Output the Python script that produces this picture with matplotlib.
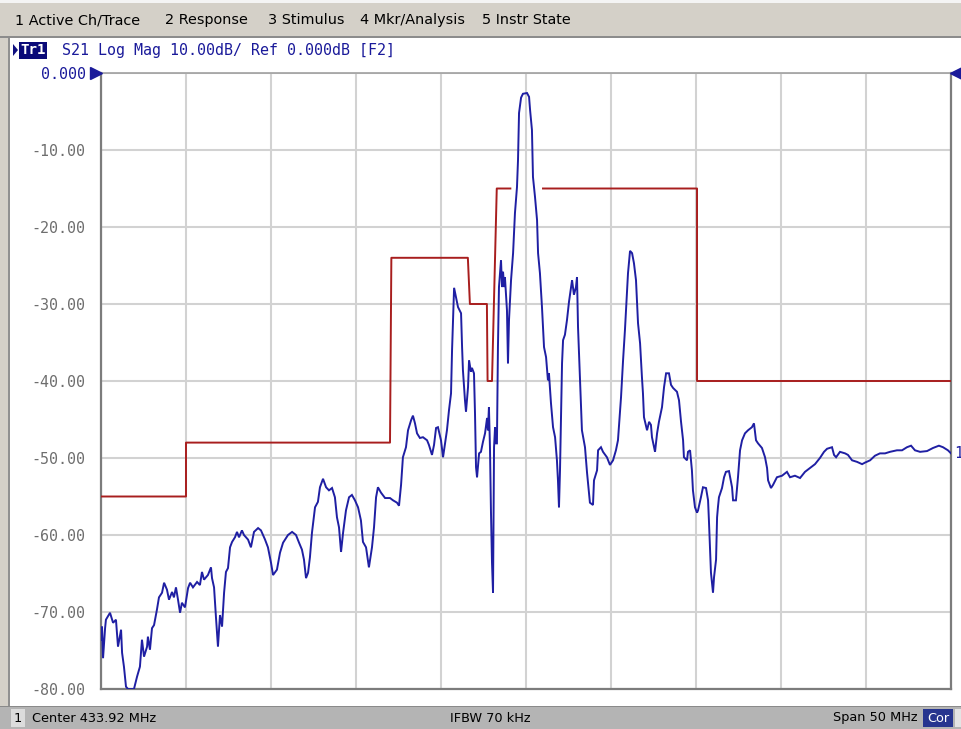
import matplotlib
matplotlib.use("Agg")
import matplotlib.pyplot as plt
import matplotlib.transforms as mtransforms
from matplotlib.patches import Rectangle, Polygon
import numpy as np

# ---- instrument settings -------------------------------------------------
center_mhz = 433.92
span_mhz = 50.0
ref_db = 0.0
scale_db = 10.0
n_div_y = 8
n_div_x = 10
ifbw_text = "IFBW 70 kHz"
menu_items = ["1 Active Ch/Trace", "2 Response", "3 Stimulus",
              "4 Mkr/Analysis", "5 Instr State"]

# ---- S21 trace (MHz, dB) -------------------------------------------------
freq_mhz = [
    408.92, 408.98, 409.04, 409.16, 409.21, 409.45, 409.63, 409.80, 409.92, 410.10,
    410.16, 410.27, 410.39, 410.51, 410.86, 411.04, 411.21, 411.33, 411.45, 411.63,
    411.68, 411.80, 411.92, 412.04, 412.21, 412.33, 412.51, 412.63, 412.80, 412.92,
    413.10, 413.21, 413.33, 413.45, 413.57, 413.68, 413.86, 414.04, 414.16, 414.33,
    414.57, 414.74, 414.86, 414.98, 415.21, 415.39, 415.45, 415.57, 415.68, 415.80,
    415.92, 416.04, 416.16, 416.27, 416.39, 416.51, 416.63, 416.80, 416.92, 417.04,
    417.21, 417.33, 417.57, 417.74, 417.92, 418.16, 418.33, 418.45, 418.57, 418.74,
    418.92, 419.04, 419.27, 419.45, 419.63, 419.92, 420.16, 420.39, 420.57, 420.74,
    420.86, 420.98, 421.10, 421.21, 421.33, 421.51, 421.68, 421.80, 421.98, 422.16,
    422.33, 422.51, 422.68, 422.80, 422.92, 423.04, 423.16, 423.33, 423.51, 423.68,
    423.86, 424.04, 424.21, 424.33, 424.51, 424.68, 424.86, 424.98, 425.10, 425.21,
    425.39, 425.63, 425.92, 426.10, 426.33, 426.45, 426.57, 426.68, 426.86, 426.98,
    427.16, 427.27, 427.39, 427.51, 427.68, 427.86, 428.10, 428.21, 428.39, 428.51,
    428.63, 428.74, 428.92, 429.04, 429.16, 429.27, 429.39, 429.51, 429.57, 429.63,
    429.69, 429.80, 429.92, 430.10, 430.16, 430.21, 430.33, 430.39, 430.51, 430.57,
    430.68, 430.74, 430.86, 430.92, 430.98, 431.04, 431.16, 431.27, 431.39, 431.51,
    431.63, 431.68, 431.74, 431.80, 431.86, 431.92, 431.98, 432.04, 432.10, 432.16,
    432.21, 432.27, 432.33, 432.45, 432.51, 432.57, 432.63, 432.68, 432.80, 432.86,
    432.92, 433.04, 433.16, 433.27, 433.39, 433.45, 433.51, 433.63, 433.74, 433.98,
    434.10, 434.16, 434.27, 434.33, 434.45, 434.57, 434.63, 434.74, 434.86, 434.98,
    435.10, 435.21, 435.27, 435.39, 435.51, 435.63, 435.74, 435.80, 435.86, 435.92,
    436.04, 436.10, 436.21, 436.33, 436.45, 436.57, 436.63, 436.74, 436.86, 436.92,
    436.98, 437.10, 437.21, 437.39, 437.51, 437.68, 437.86, 437.92, 438.10, 438.16,
    438.33, 438.45, 438.68, 438.86, 439.04, 439.21, 439.33, 439.51, 439.63, 439.74,
    439.86, 439.92, 440.04, 440.16, 440.27, 440.39, 440.51, 440.63, 440.74, 440.80,
    440.86, 441.04, 441.16, 441.27, 441.33, 441.51, 441.63, 441.74, 441.92, 442.04,
    442.16, 442.33, 442.45, 442.57, 442.80, 442.92, 443.04, 443.16, 443.21, 443.39,
    443.45, 443.57, 443.68, 443.74, 443.86, 443.98, 444.04, 444.21, 444.33, 444.51,
    444.63, 444.68, 444.80, 444.92, 444.98, 445.10, 445.16, 445.21, 445.27, 445.45,
    445.57, 445.68, 445.86, 446.04, 446.10, 446.27, 446.39, 446.51, 446.63, 446.80,
    446.98, 447.21, 447.33, 447.45, 447.57, 447.80, 447.98, 448.10, 448.16, 448.33,
    448.45, 448.68, 448.98, 449.27, 449.45, 449.74, 450.04, 450.33, 450.63, 450.92,
    451.21, 451.45, 451.63, 451.92, 452.04, 452.16, 452.39, 452.69, 452.86, 453.10,
    453.39, 453.69, 453.86, 454.16, 454.45, 454.74, 455.04, 455.33, 455.74, 456.04,
    456.33, 456.57, 456.80, 457.10, 457.51, 457.86, 458.21, 458.45, 458.74, 458.92,
]
s21_db = [
    -73.6, -71.9, -76.0, -72.1, -71.0, -70.1, -71.4, -71.0, -74.5, -72.3,
    -75.3, -77.1, -79.7, -80.0, -80.0, -78.4, -77.1, -73.6, -75.8, -74.5,
    -73.2, -74.9, -72.1, -71.7, -69.7, -68.1, -67.5, -66.2, -67.1, -68.4,
    -67.4, -68.1, -66.8, -68.4, -70.1, -68.8, -69.4, -66.9, -66.2, -66.8,
    -66.1, -66.5, -64.8, -65.8, -65.2, -64.2, -65.6, -66.8, -70.6, -74.5,
    -70.4, -71.9, -67.5, -64.8, -64.3, -61.6, -60.9, -60.3, -59.6, -60.3,
    -59.4, -60.0, -60.6, -61.6, -59.6, -59.1, -59.4, -60.0, -60.6, -61.6,
    -63.6, -65.2, -64.5, -62.3, -61.0, -60.0, -59.6, -60.0, -61.0, -61.9,
    -63.2, -65.6, -64.9, -62.9, -59.7, -56.4, -55.7, -53.8, -52.7, -53.8,
    -54.2, -53.9, -55.1, -57.7, -59.0, -62.2, -59.7, -56.8, -55.1, -54.8,
    -55.5, -56.4, -58.1, -60.9, -61.6, -64.2, -61.6, -59.0, -55.1, -53.8,
    -54.5, -55.2, -55.2, -55.5, -55.8, -56.2, -53.5, -49.9, -48.6, -46.4,
    -45.1, -44.5, -45.5, -46.8, -47.4, -47.3, -47.7, -48.3, -49.6, -48.3,
    -46.1, -46.0, -47.7, -49.9, -48.1, -46.4, -43.8, -41.6, -36.0, -32.1,
    -27.9, -29.1, -30.4, -31.2, -35.6, -38.6, -42.5, -44.0, -40.8, -37.3,
    -38.8, -38.3, -39.0, -44.2, -51.2, -52.5, -49.4, -49.2, -47.9, -46.8,
    -44.8, -46.4, -43.4, -48.6, -57.1, -63.6, -67.5, -48.6, -46.0, -48.1,
    -48.1, -35.6, -27.8, -24.3, -27.8, -25.8, -27.8, -26.5, -30.8, -37.7,
    -32.1, -26.9, -23.4, -18.2, -14.8, -11.3, -5.2, -3.2, -2.7, -2.6,
    -3.1, -4.8, -7.4, -13.5, -16.1, -19.1, -23.4, -26.0, -30.4, -35.6,
    -36.9, -39.9, -39.0, -42.9, -46.0, -47.3, -50.3, -52.9, -56.4, -51.6,
    -37.7, -34.7, -34.0, -32.1, -29.7, -27.8, -26.9, -28.8, -27.8, -26.5,
    -33.0, -39.9, -46.4, -48.6, -51.9, -55.8, -56.1, -52.9, -51.6, -49.0,
    -48.6, -49.2, -49.9, -50.9, -50.3, -49.0, -47.7, -42.1, -37.3, -33.4,
    -28.6, -26.0, -23.1, -23.4, -24.7, -26.9, -32.5, -35.1, -39.5, -41.6,
    -44.7, -46.4, -45.3, -45.7, -47.3, -49.2, -46.8, -45.3, -43.4, -40.8,
    -39.0, -39.0, -40.5, -40.9, -41.4, -42.5, -45.3, -47.7, -49.9, -50.3,
    -49.2, -49.0, -51.6, -54.2, -56.4, -57.1, -56.8, -55.1, -53.8, -53.9,
    -55.5, -58.1, -64.9, -67.5, -65.5, -63.2, -57.7, -56.4, -55.1, -53.9,
    -52.5, -51.8, -51.7, -53.8, -55.5, -55.5, -52.5, -49.0, -47.7, -46.8,
    -46.4, -46.0, -45.5, -47.7, -48.1, -48.7, -49.9, -51.3, -52.9, -53.9,
    -53.5, -52.5, -52.3, -51.8, -52.5, -52.3, -52.6, -51.8, -51.3, -50.8,
    -50.0, -49.2, -48.8, -48.6, -49.6, -49.9, -49.2, -49.4, -49.6, -50.3,
    -50.5, -50.8, -50.6, -50.3, -49.7, -49.4, -49.4, -49.2, -49.0, -49.0,
    -48.6, -48.4, -49.0, -49.2, -49.1, -48.7, -48.4, -48.6, -49.0, -49.4,
]

# ---- limit line (MHz, dB); NaN leaves the undefined span blank ----------
limit_freq_mhz = [408.92, 413.92, 413.92, 425.92, 426.00, 430.50, 430.62, 431.62,
                  431.66, 431.92, 432.20, 433.00, np.nan, 434.92, 443.98, 443.98, 458.92]
limit_db = [-55.0, -55.0, -48.0, -48.0, -24.0, -24.0, -30.0, -30.0,
            -40.0, -40.0, -15.0, -15.0, np.nan, -15.0, -15.0, -40.0, -40.0]

# ---- figure --------------------------------------------------------------
W, H = 962, 729
fig = plt.figure(figsize=(W / 100, H / 100), dpi=100)
fig.patch.set_facecolor("white")

MONO = "DejaVu Sans Mono"
UI = "DejaVu Sans"
TRACE_BLUE = "#1f1fa3"
LIMIT_RED = "#a81e1e"
PANEL_GRAY = "#d4d0c8"


def px_rect(x0, y0, x1, y1, color, z=0):
    fig.patches.append(Rectangle((x0 / W, 1 - y1 / H), (x1 - x0) / W, (y1 - y0) / H,
                                 transform=fig.transFigure, facecolor=color,
                                 edgecolor="none", zorder=z))


def px_text(x, y, s, **kw):
    return fig.text(x / W, 1 - y / H, s, transform=fig.transFigure, **kw)


def px_poly(points, color):
    fig.patches.append(Polygon([(x / W, 1 - y / H) for x, y in points], closed=True,
                               transform=fig.transFigure, facecolor=color,
                               edgecolor="none", zorder=5))


# softkey menu bar
px_rect(0, 0, W, 3, "#f4f4f4")
px_rect(0, 3, W, 36, PANEL_GRAY)
px_rect(0, 36, W, 38, "#8c8c8c")
for x, label in zip([15, 165, 268, 360, 482], menu_items):
    px_text(x, 20, label, fontsize=10.4, family=UI, color="black", va="center")

# window frame on the left
px_rect(0, 38, 8, 706, PANEL_GRAY)
px_rect(8, 38, 10, 706, "#909090")

# trace header line
px_poly([(13, 44), (13, 56), (18, 50)], "#101080")
px_text(20, 50.5, "Tr1", fontsize=10.2, family=MONO, color="white", va="center",
        fontweight="bold",
        bbox=dict(boxstyle="square,pad=0.08", facecolor="#0a0a78", edgecolor="none"))
px_text(62, 50.5, f"S21 Log Mag {scale_db:.2f}dB/ Ref {ref_db:.3f}dB [F2]",
        fontsize=10.8, family=MONO, color="#1a1a9a", va="center")

# status bar
px_rect(0, 706, W, H, "#b4b4b4")
px_rect(0, 706, W, 707, "#8a8a8a")
px_rect(11, 709, 25, 727, "#dcdcdc")
px_text(14, 718, "1", fontsize=9.3, family=UI, color="black", va="center")
px_text(32, 718, f"Center {center_mhz:.2f} MHz", fontsize=9.3, family=UI,
        color="black", va="center")
px_text(490, 718, ifbw_text, fontsize=9.3, family=UI, color="black",
        va="center", ha="center")
px_text(918, 718, f"Span {span_mhz:g} MHz", fontsize=9.3, family=UI, color="black",
        va="center", ha="right")
px_rect(923, 709, 953, 727, "#27358f")
px_text(938, 718, "Cor", fontsize=9.3, family=UI, color="white", va="center",
        ha="center")
px_rect(955, 709, W, 727, "#e4e4e4")

# ---- graticule -----------------------------------------------------------
ax = fig.add_axes([101 / W, (H - 689) / H, 850 / W, 616 / H])
f_lo = center_mhz - span_mhz / 2
f_hi = center_mhz + span_mhz / 2
y_bot = ref_db - n_div_y * scale_db
ax.set_xlim(f_lo, f_hi)
ax.set_ylim(y_bot, ref_db)
ax.set_facecolor("white")
ax.set_xticks(np.linspace(f_lo, f_hi, n_div_x + 1))
yticks = np.linspace(y_bot, ref_db, n_div_y + 1)
ax.set_yticks(yticks)
ax.set_yticklabels([f"{v:.3f}" if v == ref_db else f"{v:.2f}" for v in yticks])
ax.grid(True, color="#d2d2d2", linewidth=1.5)
ax.set_axisbelow(True)
ax.tick_params(axis="x", length=0, labelbottom=False)
ax.tick_params(axis="y", length=0, pad=11, labelsize=10.8, labelcolor="#6e6e6e")
for lab, v in zip(ax.get_yticklabels(), yticks):
    lab.set_family(MONO)
    if v == ref_db:
        lab.set_color("#1a1a9a")
for side in ("left", "bottom", "right"):
    ax.spines[side].set_color("#7c7c7c")
    ax.spines[side].set_linewidth(1.6)
ax.spines["top"].set_color("#a0a0a0")
ax.spines["top"].set_linewidth(1.2)

# limit line and measured trace
ax.plot(limit_freq_mhz, limit_db, color=LIMIT_RED, linewidth=1.4, zorder=3)
ax.plot(freq_mhz, s21_db, color=TRACE_BLUE, linewidth=1.4, zorder=4,
        solid_joinstyle="miter")

# reference-position arrows on both sides of the graticule
left_arrow = mtransforms.offset_copy(ax.transData, fig=fig, x=-5, y=0, units="dots")
right_arrow = mtransforms.offset_copy(ax.transData, fig=fig, x=5, y=0, units="dots")
ax.plot([f_lo], [ref_db], marker=">", markersize=9, color="#1a1a9a",
        transform=left_arrow, clip_on=False, zorder=6)
ax.plot([f_hi], [ref_db], marker="<", markersize=9, color="#1a1a9a",
        transform=right_arrow, clip_on=False, zorder=6)

# trace number at the end of the sweep
ax.annotate("1", xy=(freq_mhz[-1], s21_db[-1]), xytext=(2, 0),
            textcoords="offset points", fontsize=10.5, family=MONO,
            color=TRACE_BLUE, va="center", ha="left", annotation_clip=False)

fig.savefig("out.png", dpi=100)
